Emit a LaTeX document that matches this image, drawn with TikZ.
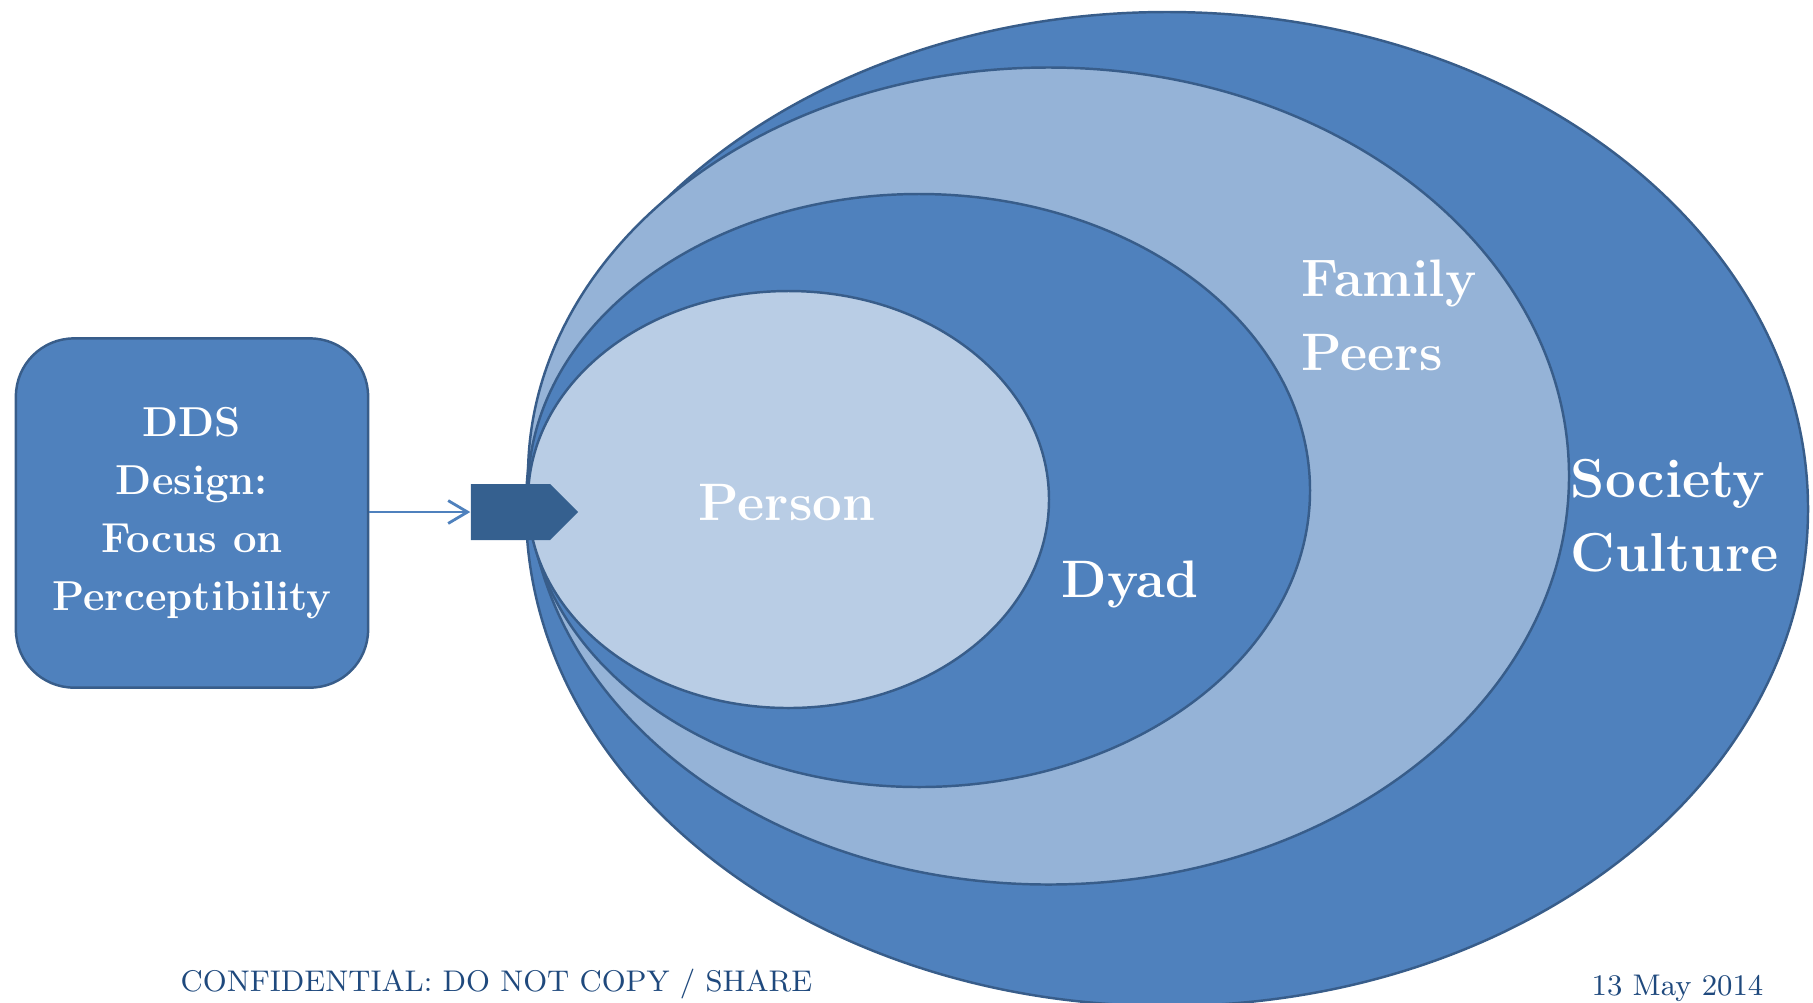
\documentclass[tikz,border=0pt]{standalone}
\usepackage{tikz}
\usetikzlibrary{shapes.symbols,arrows.meta}
\definecolor{ringdark}{HTML}{4F81BD}
\definecolor{ringmid}{HTML}{95B3D7}
\definecolor{ringlight}{HTML}{B9CDE5}
\definecolor{ringline}{HTML}{385D8A}
\definecolor{markcolor}{HTML}{35608F}
\definecolor{notecolor}{HTML}{1F497D}

\begin{document}
\begin{tikzpicture}[x=0.01cm, y=-0.01cm,
  ring/.style={draw=ringline, line width=0.7pt},
  lbl/.style={text=white, font=\fontsize{15}{21}\selectfont\bfseries, inner sep=0pt},
  ddsbox/.style={draw=ringline, line width=0.7pt, fill=ringdark, rounded corners=0.58cm,
                 minimum width=3.52cm, minimum height=3.49cm, text=white, align=center,
                 font=\fontsize{11.9}{16.5}\selectfont\bfseries},
  marker/.style={signal, signal to=east, signal pointer angle=90, fill=markcolor,
                 minimum width=1.07cm, minimum height=0.56cm, inner sep=0pt},
  note/.style={text=notecolor, inner sep=0pt, font=\fontsize{8.5}{10}\selectfont},
  arr/.style={-{Straight Barb[length=5.5pt,width=6.5pt]}, draw=ringdark, line width=0.8pt}
]
  \useasboundingbox (0,0) rectangle (1813,1002);

  % nested circles, outermost first
  \draw[ring, fill=ringdark]  (1167,509)   ellipse [x radius=641,   y radius=497];
  \draw[ring, fill=ringmid]   (1048.5,476) ellipse [x radius=520.5, y radius=408.5];
  \draw[ring, fill=ringdark]  (919,490.5)  ellipse [x radius=391,   y radius=296.5];
  \draw[ring, fill=ringlight] (788.5,499.5) ellipse [x radius=260.5, y radius=208.5];

  \node[ddsbox] (dds)  at (192,513) {DDS\\Design:\\Focus on\\Perceptibility};
  \node[marker] (mark) at (510.5,512) {};
  \draw[arr] (dds.east |- mark) -- (mark);

  \node[lbl, anchor=base]      (person)  at (787,520)  {Person};
  \node[lbl, anchor=base west] (dyad)    at (1061,597) {Dyad};
  \node[lbl, anchor=base west] (family)  at (1301,296) {Family};
  \node[lbl, anchor=base west] (peers)   at (1301,370) {Peers};
  \node[lbl, anchor=base west, font=\fontsize{15.6}{21}\selectfont\bfseries] (society) at (1570,497) {Society};
  \node[lbl, anchor=base west, font=\fontsize{15.6}{21}\selectfont\bfseries] (culture) at (1570,571) {Culture};

  \node[note, anchor=base west] (conf) at (180,991)  {CONFIDENTIAL: DO NOT COPY / SHARE};
  \node[note, anchor=base west] (date) at (1591,995) {13 May 2014};
\end{tikzpicture}
\end{document}
